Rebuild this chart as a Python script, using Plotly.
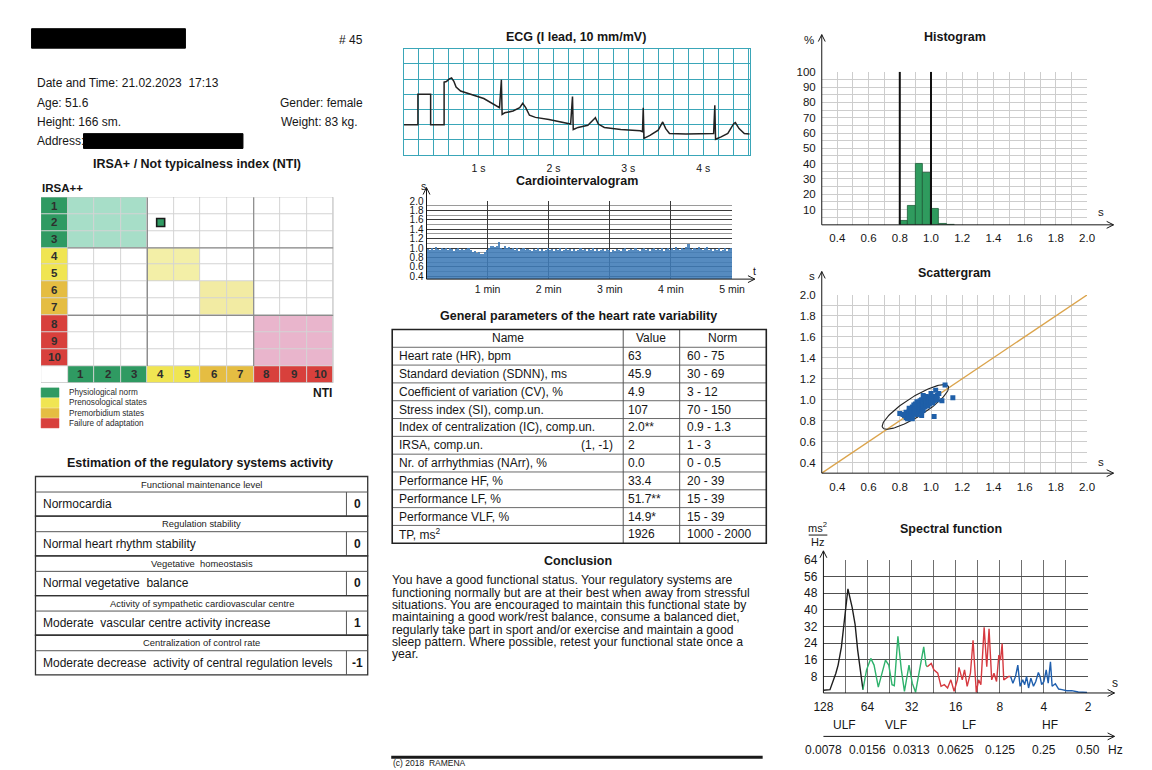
import math
import plotly.graph_objects as go

W, H = 1152, 770
FONT = "Liberation Sans"
INK = "#161616"

# ---------------- data ----------------
report_number = "# 45"
date_time = "21.02.2023  17:13"
age_years = "51.6"
gender = "female"
height_sm = "166"
weight_kg = "83"

zone_of_level = [1, 1, 1, 2, 2, 3, 3, 4, 4, 4]
zone_labels = ["Physiological norm", "Prenosological states", "Premorbidium states", "Failure of adaptation"]
zone_strong = ["#2f9a62", "#f0e552", "#e5bd42", "#d8403c"]
zone_light = ["#a7dec8", "#f3efa7", "#f2eba3", "#e9b5cc"]
nti_value = 4
irsa_value = 2

est_groups = ["Functional maintenance level", "Regulation stability", "Vegetative  homeostasis",
              "Activity of sympathetic cardiovascular centre", "Centralization of control rate"]
est_results = ["Normocardia", "Normal heart rhythm stability", "Normal vegetative  balance",
               "Moderate  vascular centre activity increase",
               "Moderate decrease  activity of central regulation levels"]
est_scores = ["0", "0", "0", "1", "-1"]

hrv_header = ["Name", "Value", "Norm"]
hrv_names = ["Heart rate (HR), bpm", "Standard deviation (SDNN), ms", "Coefficient of variation (CV), %",
             "Stress index (SI), comp.un.", "Index of centralization (IC), comp.un.", "IRSA, comp.un.",
             "Nr. of arrhythmias (NArr), %", "Performance HF, %", "Performance LF, %",
             "Performance VLF, %", "TP, ms<sup>2</sup>"]
hrv_notes = ["", "", "", "", "", "(1, -1)", "", "", "", "", ""]
hrv_values = ["63", "45.9", "4.9", "107", "2.0**", "2", "0.0", "33.4", "51.7**", "14.9*", "1926"]
hrv_norms = ["60 - 75", "30 - 69", "3 - 12", "70 - 150", "0.9 - 1.3", "1 - 3", "0 - 0.5",
             "20 - 39", "15 - 39", "15 - 39", "1000 - 2000"]

conclusion_lines = [
    "You have a good functional status. Your regulatory systems are",
    "functioning normally but are at their best when away from stressful",
    "situations. You are encouraged to maintain this functional state by",
    "maintaining a good work/rest balance, consume a balanced diet,",
    "regularly take part in sport and/or exercise and maintain a good",
    "sleep pattern. Where possible, retest your functional state once a",
    "year.",
]

# ECG (time s, mV)
ecg_t = [0.00, 0.19, 0.19, 0.36, 0.36, 0.54, 0.54, 0.57, 0.61, 0.64, 0.67, 0.70, 0.76, 0.89, 1.07, 1.28,
         1.305, 1.315, 1.35, 1.46, 1.55, 1.59, 1.63, 1.68, 1.76, 1.94, 2.11, 2.23,
         2.255, 2.265, 2.33, 2.46, 2.55, 2.56, 2.60, 2.68, 2.90, 3.16, 3.19,
         3.20, 3.21, 3.29, 3.40, 3.46, 3.50, 3.55, 3.77, 4.03, 4.14,
         4.156, 4.166, 4.24, 4.33, 4.41, 4.43, 4.48, 4.55, 4.62]
ecg_mv = [1.0, 1.0, 2.0, 2.0, 1.0, 1.0, 2.40, 2.42, 2.51, 2.54, 2.43, 2.24, 2.11, 2.00, 1.86, 1.56,
          2.48, 1.34, 1.39, 1.45, 1.56, 1.70, 1.56, 1.31, 1.24, 1.17, 1.09, 1.02,
          1.93, 0.84, 0.91, 0.98, 1.20, 1.23, 1.02, 0.91, 0.84, 0.80, 0.77,
          1.56, 0.55, 0.65, 0.82, 1.09, 0.87, 0.71, 0.69, 0.71, 0.71,
          1.64, 0.52, 0.60, 0.71, 1.04, 1.07, 0.87, 0.71, 0.69]

# Cardiointervalogram: RR intervals (s), 2-second steps over 5 min
rr_series = [
    0.97, 0.95, 0.99, 0.96, 1.02, 0.98, 0.95, 0.99, 0.97, 1.00,
    0.96, 0.99, 0.97, 0.94, 0.98, 1.00, 0.96, 0.98, 0.95, 0.97,
    0.99, 0.95, 0.92, 0.94, 0.90, 0.92, 0.88, 0.86, 0.91, 0.95,
    0.99, 1.03, 1.05, 1.02, 1.04, 1.12, 1.00, 0.97, 1.03, 0.99,
    1.01, 0.97, 1.00, 0.96, 0.99, 0.94, 0.97, 1.00, 0.95, 0.98,
    0.96, 0.93, 0.98, 0.95, 0.99, 0.94, 0.97, 0.93, 0.96, 0.99,
    0.95, 0.98, 0.93, 0.97, 0.95, 0.99, 0.94, 0.96, 1.00, 0.95,
    0.97, 0.94, 0.98, 0.93, 0.96, 0.99, 0.95, 0.97, 0.93, 0.98,
    0.95, 0.99, 0.94, 0.97, 0.93, 0.96, 0.98, 0.94, 0.97, 0.95,
    0.92, 0.96, 0.94, 0.98, 0.95, 0.93, 0.97, 0.99, 0.94, 0.96,
    0.98, 0.95, 0.99, 0.96, 0.93, 0.97, 1.00, 0.95, 0.98, 0.94,
    0.97, 1.00, 0.95, 0.98, 0.96, 0.99, 0.94, 0.97, 1.00, 0.96,
    0.99, 0.96, 1.01, 0.97, 0.95, 0.99, 0.97, 1.01, 1.08, 0.98,
    0.96, 1.00, 0.97, 1.02, 0.98, 0.95, 0.99, 1.01, 0.96, 0.98,
    0.94, 0.97, 0.95, 0.99, 0.93, 0.96, 1.00, 0.94, 0.97, 0.99,
]
cig_minutes = 5

# Histogram
hist_bin_left = [0.80, 0.85, 0.90, 0.95, 1.00, 1.05, 1.10]
hist_pct = [2.5, 12.5, 40.0, 34.0, 10.5, 0.8, 0.3]
hist_bin_width = 0.05
hist_bounds = [0.8, 1.0]

# Scattergram (RR_n, RR_n+1)
rr_n = [0.82, 0.84, 0.84, 0.85, 0.86, 0.86, 0.87, 0.87, 0.88, 0.88,
        0.88, 0.89, 0.89, 0.89, 0.90, 0.90, 0.90, 0.91, 0.91, 0.91,
        0.92, 0.92, 0.92, 0.93, 0.93, 0.93, 0.94, 0.94, 0.94, 0.95,
        0.95, 0.95, 0.96, 0.96, 0.96, 0.97, 0.97, 0.97, 0.98, 0.98,
        0.98, 0.99, 0.99, 1.00, 1.00, 1.01, 1.01, 1.02, 1.02, 1.03,
        1.04, 1.04, 0.91, 0.94, 0.86, 0.95, 1.00,
        1.09, 1.14, 1.07, 1.02, 0.94, 0.88, 0.83, 0.85, 1.03, 1.05, 0.80]
rr_n1 = [0.86, 0.83, 0.88, 0.86, 0.84, 0.89, 0.87, 0.91, 0.85, 0.89,
         0.93, 0.87, 0.91, 0.95, 0.88, 0.92, 0.96, 0.90, 0.94, 0.98,
         0.89, 0.93, 0.97, 0.91, 0.95, 0.99, 0.92, 0.96, 1.00, 0.90,
         0.94, 0.98, 0.93, 0.97, 1.01, 0.95, 0.99, 1.03, 0.94, 0.98,
         1.02, 0.96, 1.00, 0.98, 1.02, 0.97, 1.01, 0.99, 1.03, 1.01,
         1.00, 1.04, 0.86, 0.88, 0.92, 1.04, 1.06,
         1.14, 1.02, 0.99, 0.84, 0.85, 0.82, 0.85, 0.82, 1.09, 1.06, 0.87]
ellipse_cx, ellipse_cy = 0.90, 0.932
ellipse_a, ellipse_b, ellipse_angle_deg = 0.29, 0.08, 45

# Spectral function: frequency (Hz), power (ms^2/Hz)
ulf_f = [0.00781, 0.00866, 0.00950, 0.00984, 0.01036, 0.01090, 0.01148, 0.01228, 0.01285, 0.01339, 0.01410, 0.01454]
ulf_p = [1.3, 1.6, 9.5, 13.4, 22.0, 34.8, 50.0, 41.0, 33.0, 20.5, 7.9, 1.6]
vlf_f = [0.01454, 0.01539, 0.01645, 0.01731, 0.01851, 0.01969, 0.02072, 0.02182, 0.02296, 0.02380,
         0.02519, 0.02652, 0.02791, 0.02999, 0.03157, 0.03324, 0.03553, 0.03779, 0.03917, 0.03998]
vlf_p = [1.6, 11.1, 16.6, 13.4, 2.8, 9.5, 15.8, 13.4, 4.0, 3.5,
         27.2, 11.7, 0.8, 13.4, 4.7, 0.3, 11.1, 22.1, 13.4, 12.6]
lf_f = [0.03998, 0.04253, 0.04431, 0.04712, 0.04961, 0.05222, 0.05498, 0.05787, 0.06092, 0.06413,
        0.06579, 0.06926, 0.07179, 0.07481, 0.07874, 0.08205, 0.08637, 0.08953, 0.09281, 0.09769,
        0.1018, 0.1055, 0.1100, 0.1140, 0.1187, 0.1231, 0.1263, 0.1296, 0.1329, 0.1385, 0.1436, 0.1481]
lf_p = [12.6, 14.2, 11.1, 9.5, 3.2, 4.0, 2.4, 6.3, 0.8, 6.3,
        12.3, 6.3, 11.1, 3.2, 9.5, 25.3, 0.3, 6.3, 4.0, 31.6,
        12.6, 30.8, 6.3, 9.5, 5.5, 18.2, 15.8, 23.7, 6.3, 7.1, 7.9, 7.9]
hf_f = [0.1481, 0.1535, 0.1599, 0.1658, 0.1719, 0.1791, 0.1847, 0.1904, 0.1964, 0.2036,
        0.2121, 0.2199, 0.2291, 0.2350, 0.2412, 0.2500, 0.2591, 0.2673, 0.2770, 0.2843,
        0.2992, 0.3150, 0.3316, 0.3581, 0.3868, 0.4286, 0.4924]
hf_p = [7.9, 4.7, 7.9, 13.4, 3.2, 6.3, 4.0, 7.9, 2.4, 7.1,
        3.2, 5.5, 9.8, 7.9, 4.0, 5.5, 11.1, 4.7, 15.0, 3.2,
        4.4, 1.9, 1.6, 1.1, 1.1, 0.5, 0.3]
band_edges = [1 / 128, 0.015, 0.04, 0.15, 0.5]
band_names = ["ULF", "VLF", "LF", "HF"]
band_colors = ["#1e1e1e", "#2eb26c", "#d63a40", "#1f5fae"]
period_labels = ["128", "64", "32", "16", "8", "4", "2"]
freq_labels = ["0.0078", "0.0156", "0.0313", "0.0625", "0.125", "0.25", "0.50"]

# ---------------- helpers ----------------
def X(px):
    return px / W


def Y(py):
    return 1 - py / H


def xdom(a, b):
    return [X(a), X(b)]


def ydom(top, bottom):
    return [Y(bottom), Y(top)]


anns = []
shapes = []


def txt(x, y, s, size=12, bold=False, xa="left", color=INK, family=FONT):
    anns.append(dict(x=X(x), y=Y(y), xref="paper", yref="paper", text=("<b>%s</b>" % s) if bold else s,
                     showarrow=False, xanchor=xa, yanchor="middle", borderpad=0,
                     font=dict(family=family, size=size, color=color)))


def line(x0, y0, x1, y1, color=INK, width=1):
    shapes.append(dict(type="line", xref="paper", yref="paper", x0=X(x0), y0=Y(y0), x1=X(x1), y1=Y(y1),
                       line=dict(color=color, width=width)))


def rect(x0, y0, x1, y1, fill=None, color=INK, width=1):
    shapes.append(dict(type="rect", xref="paper", yref="paper", x0=X(x0), y0=Y(y0), x1=X(x1), y1=Y(y1),
                       fillcolor=fill if fill else "rgba(0,0,0,0)",
                       line=dict(color=color, width=width)))


def arrow(x0, y0, x1, y1, color=INK, width=1, head=7, half=3.5):
    line(x0, y0, x1, y1, color, width)
    dx, dy = x1 - x0, y1 - y0
    L = math.hypot(dx, dy)
    ux, uy = dx / L, dy / L
    bx, by = x1 - ux * head, y1 - uy * head
    nx, ny = -uy * half, ux * half
    path = "M %f %f L %f %f L %f %f" % (X(bx + nx), Y(by + ny), X(x1), Y(y1), X(bx - nx), Y(by - ny))
    shapes.append(dict(type="path", xref="paper", yref="paper", path=path, line=dict(color=color, width=width)))


def steps(lo, hi, step):
    n = int(round((hi - lo) / step))
    return [round(lo + k * step, 5) for k in range(n + 1)]


traces = []
layout_axes = {}

# ---------------- header ----------------
rect(22, 22, 179, 41.7, fill="#000000", color="#000000")
txt(361, 33.5, report_number, 12, xa="right")
txt(26.5, 77.5, "Date and Time: " + date_time, 12)
txt(26.5, 97.5, "Age: " + age_years, 12)
txt(361, 97.5, "Gender: " + gender, 12, xa="right")
txt(26.5, 116.5, "Height: " + height_sm + " sm.", 12)
txt(276, 116.5, "Weight: " + weight_kg + " kg.", 12)
txt(26.5, 135.5, "Address:", 12)
rect(75, 128.3, 237.7, 143.3, fill="#000000", color="#000000")
txt(191, 159.3, "IRSA+ / Not typicalness index (NTI)", 12.5, bold=True, xa="center")

# ---------------- IRSA grid (heatmap) ----------------
palette = ["#ffffff"] + zone_light + zone_strong
cscale = []
for k, c in enumerate(palette):
    cscale.append([k / len(palette), c])
    cscale.append([(k + 1) / len(palette), c])
zmat = []
for r in range(1, 12):
    row = []
    for c in range(0, 11):
        if r == 11 and c == 0:
            row.append(0)
        elif r == 11:
            row.append(4 + zone_of_level[c - 1])
        elif c == 0:
            row.append(4 + zone_of_level[r - 1])
        else:
            zr, zc = zone_of_level[r - 1], zone_of_level[c - 1]
            row.append(zr if zr == zc else 0)
    zmat.append(row)
traces.append(go.Heatmap(z=zmat, x=list(range(0, 11)), y=list(range(1, 12)), xaxis="x6", yaxis="y6",
                         colorscale=cscale, zmin=-0.5, zmax=len(palette) - 0.5, showscale=False,
                         xgap=1, ygap=1, hoverinfo="skip"))
layout_axes["xaxis6"] = dict(domain=xdom(31.7, 330), range=[-0.5, 10.5], anchor="y6", visible=False)
layout_axes["yaxis6"] = dict(domain=ydom(192.7, 380.7), range=[11.5, 0.5], anchor="x6", visible=False)
shapes.append(dict(type="rect", xref="x6", yref="y6", x0=-0.5, x1=10.5, y0=0.5, y1=11.5, layer="below",
                   fillcolor="#d4d4d4", line=dict(color="#b0b0b0", width=1)))
for b in [3.5, 7.5]:
    shapes.append(dict(type="line", xref="x6", yref="y6", x0=b, x1=b, y0=0.5, y1=10.5,
                       line=dict(color="#8c8c8c", width=1.2)))
    shapes.append(dict(type="line", xref="x6", yref="y6", x0=0.5, x1=10.5, y0=b, y1=b,
                       line=dict(color="#8c8c8c", width=1.2)))
for lvl in range(1, 11):
    anns.append(dict(x=0, y=lvl, xref="x6", yref="y6", text="<b>%d</b>" % lvl, showarrow=False,
                     font=dict(family=FONT, size=11.5, color="#2e2e2e")))
    anns.append(dict(x=lvl, y=11, xref="x6", yref="y6", text="<b>%d</b>" % lvl, showarrow=False,
                     font=dict(family=FONT, size=11.5, color="#2e2e2e")))
traces.append(go.Scatter(x=[nti_value], y=[irsa_value], xaxis="x6", yaxis="y6", mode="markers",
                         marker=dict(symbol="square", size=8, color="#2f9a62", line=dict(color="#1a1a1a", width=1.6)),
                         hoverinfo="skip"))
txt(32, 183, "IRSA++", 11.5, bold=True)
for i, name in enumerate(zone_labels):
    yc = 390.7 + 10.33 * i
    rect(31.7, yc - 4.8, 50, yc + 4.8, fill=zone_strong[i], color=zone_strong[i], width=0.5)
    txt(59, yc, name, 8.2, color="#2a2a2a")
txt(330, 390.7, "NTI", 12, bold=True, xa="right")

# ---------------- Estimation table ----------------
txt(194, 461.7, "Estimation of the regulatory systems activity", 12.5, bold=True, xa="center")
for i in range(len(est_groups)):
    y0 = 475.7 + 40.2 * i
    ym = y0 + 15.7
    y1 = y0 + 40.2
    rect(26, y0, 365, y1, color="#333333", width=1.3)
    line(26, ym, 365, ym, "#555555", 1)
    line(343.3, ym, 343.3, y1, "#555555", 1)
    txt(195.5, (y0 + ym) / 2, est_groups[i], 9.4, xa="center", color="#222222")
    txt(32.5, (ym + y1) / 2, est_results[i], 12)
    txt(354.2, (ym + y1) / 2, est_scores[i], 12, bold=True, xa="center")

# ---------------- ECG ----------------
teal = "#3aa6b8"
txt(578, 30, "ECG (I lead, 10 mm/mV)", 12.5, bold=True, xa="center")
traces.append(go.Scatter(x=ecg_t, y=ecg_mv, xaxis="x", yaxis="y", mode="lines",
                         line=dict(color="#222222", width=1.5), hoverinfo="skip"))
layout_axes["xaxis"] = dict(domain=xdom(401.7, 755), range=[0, 4.625], anchor="y", tickmode="array",
                            tickvals=[1, 2, 3, 4], ticktext=["1 s", "2 s", "3 s", "4 s"],
                            showgrid=True, gridcolor=teal, gridwidth=1,
                            minor=dict(tickmode="array", tickvals=steps(0.2, 4.6, 0.2), showgrid=True,
                                       gridcolor=teal, gridwidth=1),
                            showline=True, linecolor=teal, mirror=True, zeroline=False, ticks="",
                            tickfont=dict(family=FONT, size=10.5, color=INK), ticklabelstandoff=3)
layout_axes["yaxis"] = dict(domain=ydom(42.3, 150), range=[0, 3.5], anchor="x", dtick=0.5, showgrid=True,
                            gridcolor=teal, gridwidth=1, showline=True, linecolor=teal, mirror=True,
                            zeroline=False, showticklabels=False, ticks="")

# ---------------- Cardiointervalogram ----------------
txt(579, 176.7, "Cardiointervalogram", 12.5, bold=True, xa="center")
step = cig_minutes / len(rr_series)
cig_x = [(i + 0.5) * step for i in range(len(rr_series))]
traces.append(go.Bar(x=cig_x, y=rr_series, xaxis="x2", yaxis="y2", width=step * 0.8,
                     marker=dict(color="#3f7cb8", line=dict(width=0)), opacity=0.88, hoverinfo="skip"))
layout_axes["xaxis2"] = dict(domain=xdom(425, 736.7), range=[0, cig_minutes], anchor="y2", tickmode="array",
                             tickvals=[1, 2, 3, 4, 5], ticktext=["1 min", "2 min", "3 min", "4 min", "5 min"],
                             showgrid=True, gridcolor="#3a3a3a", gridwidth=1, zeroline=False, showline=False,
                             ticks="", tickfont=dict(family=FONT, size=10.5, color=INK), ticklabelstandoff=2)
cig_major = steps(0.4, 2.0, 0.2)
cig_minor = steps(0.5, 1.9, 0.2)
layout_axes["yaxis2"] = dict(domain=ydom(196.7, 275.7), range=[0.337, 2.0], anchor="x2", tickmode="array",
                             tickvals=cig_major, ticktext=["%.1f" % v for v in cig_major],
                             showgrid=True, gridcolor="#3a3a3a", gridwidth=1, zeroline=False, ticks="",
                             minor=dict(tickmode="array", tickvals=cig_minor, showgrid=True, gridcolor="#9a9a9a"),
                             tickfont=dict(family=FONT, size=10, color=INK), ticklabelstandoff=2)
arrow(425, 275.7, 425, 183)
arrow(425, 275.7, 760, 275.7)
txt(418, 181, "s", 10.5)
txt(760, 267, "t", 10.5, xa="center")

# ---------------- HRV parameters table ----------------
txt(580, 313.3, "General parameters of the heart rate variability", 12.5, bold=True, xa="center")
tx0, tc1, tc2, tx1 = 390, 625.7, 683.3, 771.7
ty0, rh = 326.7, 18.05
nrows = len(hrv_names) + 1
for r in range(1, nrows):
    line(tx0, ty0 + rh * r, tx1, ty0 + rh * r, "#6a6a6a", 1)
line(tc1, ty0, tc1, ty0 + rh * nrows, "#555555", 1)
line(tc2, ty0, tc2, ty0 + rh * nrows, "#555555", 1)
rect(tx0, ty0, tx1, ty0 + rh * nrows, color="#222222", width=1.6)
yc = ty0 + rh / 2
txt((tx0 + tc1) / 2, yc, hrv_header[0], 12, xa="center")
txt((tc1 + tc2) / 2, yc, hrv_header[1], 12, xa="center")
txt((tc2 + tx1) / 2, yc, hrv_header[2], 12, xa="center")
for i in range(len(hrv_names)):
    yc = ty0 + rh * (i + 1) + rh / 2
    txt(396, yc, hrv_names[i], 12)
    if hrv_notes[i]:
        txt(616, yc, hrv_notes[i], 12, xa="right")
    txt(630, yc, hrv_values[i], 12)
    txt(690, yc, hrv_norms[i], 12)

# ---------------- Conclusion ----------------
txt(580, 561, "Conclusion", 12.5, bold=True, xa="center")
for i, s in enumerate(conclusion_lines):
    txt(389, 581 + 12.5 * i, s, 12.2)
line(389, 760, 768, 760, "#1a1a1a", 3)
txt(390, 765.5, "(c) 2018  RAMENA", 8.5)

# ---------------- Histogram ----------------
txt(964, 30, "Histogram", 12.5, bold=True, xa="center")
traces.append(go.Bar(x=[b + hist_bin_width / 2 for b in hist_bin_left], y=hist_pct, width=hist_bin_width,
                     xaxis="x3", yaxis="y3", marker=dict(color="#2f9b5e", line=dict(color="#1d5e39", width=0.8)),
                     hoverinfo="skip"))
for b in hist_bounds:
    traces.append(go.Scatter(x=[b, b], y=[0, 100], xaxis="x3", yaxis="y3", mode="lines",
                             line=dict(color="#111111", width=2), hoverinfo="skip"))
gx_major = steps(0.4, 2.0, 0.2)
gx_minor = steps(0.5, 1.9, 0.2)
gx_text = ["%.1f" % v for v in gx_major]
gridc = "#cdcdcd"
tick_font = dict(family=FONT, size=11.5, color=INK)
layout_axes["xaxis3"] = dict(domain=xdom(828.3, 1099), range=[0.3, 2.0], anchor="y3", tickmode="array",
                             tickvals=gx_major, ticktext=gx_text, showgrid=True, gridcolor=gridc, zeroline=False,
                             minor=dict(tickmode="array", tickvals=gx_minor, showgrid=True, gridcolor=gridc),
                             ticks="", tickfont=tick_font, ticklabelstandoff=5)
hy_major = steps(10, 100, 10)
hy_minor = steps(5, 95, 10)
layout_axes["yaxis3"] = dict(domain=ydom(65.7, 220.7), range=[0, 100], anchor="x3", tickmode="array",
                             tickvals=hy_major, ticktext=["%d" % v for v in hy_major], showgrid=True,
                             gridcolor=gridc, zeroline=False,
                             minor=dict(tickmode="array", tickvals=hy_minor, showgrid=True, gridcolor=gridc),
                             ticks="", tickfont=tick_font, ticklabelstandoff=5)
arrow(828.3, 220.7, 828.3, 28)
arrow(828.3, 220.7, 1126, 220.7)
txt(815, 33, "%", 11.5, xa="center")
txt(1113, 208, "s", 11.5, xa="center")

# ---------------- Scattergram ----------------
txt(964, 270, "Scattergram", 12.5, bold=True, xa="center")
traces.append(go.Scatter(x=[0.3, 2.0], y=[0.3, 2.0], xaxis="x4", yaxis="y4", mode="lines",
                         line=dict(color="#dba44c", width=1.3), hoverinfo="skip"))
th = math.radians(ellipse_angle_deg)
ex, ey = [], []
for k in range(121):
    t = 2 * math.pi * k / 120
    u, v = ellipse_a * math.cos(t), ellipse_b * math.sin(t)
    ex.append(ellipse_cx + u * math.cos(th) - v * math.sin(th))
    ey.append(ellipse_cy + u * math.sin(th) + v * math.cos(th))
traces.append(go.Scatter(x=ex, y=ey, xaxis="x4", yaxis="y4", mode="lines",
                         line=dict(color="#222222", width=1.1), hoverinfo="skip"))
traces.append(go.Scatter(x=rr_n, y=rr_n1, xaxis="x4", yaxis="y4", mode="markers",
                         marker=dict(symbol="square", size=5, color="#1f5fa8"), hoverinfo="skip"))
layout_axes["xaxis4"] = dict(domain=xdom(828.3, 1099), range=[0.3, 2.0], anchor="y4", tickmode="array",
                             tickvals=gx_major, ticktext=gx_text, showgrid=True, gridcolor=gridc, zeroline=False,
                             minor=dict(tickmode="array", tickvals=gx_minor, showgrid=True, gridcolor=gridc),
                             ticks="", tickfont=tick_font, ticklabelstandoff=5)
layout_axes["yaxis4"] = dict(domain=ydom(291.7, 472.3), range=[0.3, 2.0], anchor="x4", tickmode="array",
                             tickvals=gx_major, ticktext=gx_text, showgrid=True, gridcolor=gridc, zeroline=False,
                             minor=dict(tickmode="array", tickvals=gx_minor, showgrid=True, gridcolor=gridc),
                             ticks="", tickfont=tick_font, ticklabelstandoff=5)
arrow(828.3, 472.3, 828.3, 268)
arrow(828.3, 472.3, 1126, 472.3)
txt(818, 273, "s", 11.5, xa="center")
txt(1113, 461, "s", 11.5, xa="center")

# ---------------- Spectral function ----------------
txt(960, 529, "Spectral function", 12.5, bold=True, xa="center")
for f, p, c in [(ulf_f, ulf_p, band_colors[0]), (vlf_f, vlf_p, band_colors[1]),
                (lf_f, lf_p, band_colors[2]), (hf_f, hf_p, band_colors[3])]:
    traces.append(go.Scatter(x=f, y=p, xaxis="x5", yaxis="y5", mode="lines",
                             line=dict(color=c, width=1.4), hoverinfo="skip"))
octaves = [(1 / 128) * 2 ** k for k in range(7)]
half_oct = [(1 / 128) * 2 ** (k + 0.5) for k in range(6)]
layout_axes["xaxis5"] = dict(domain=xdom(830, 1100), type="log", range=[math.log10(1 / 128), math.log10(0.5)],
                             anchor="y5", tickmode="array", tickvals=octaves, ticktext=period_labels,
                             showgrid=True, gridcolor="#707070", gridwidth=1, zeroline=False, ticks="",
                             minor=dict(tickmode="array", tickvals=half_oct, showgrid=True, gridcolor="#707070"),
                             tickfont=dict(family=FONT, size=12, color=INK), ticklabelstandoff=5)
spec_y = steps(8, 64, 8)
layout_axes["yaxis5"] = dict(domain=ydom(560, 695), range=[0, 64], anchor="x5", tickmode="array",
                             tickvals=spec_y, ticktext=["%d" % v for v in spec_y],
                             showgrid=True, gridcolor="#505050", gridwidth=1, zeroline=False, ticks="",
                             tickfont=dict(family=FONT, size=12, color=INK), ticklabelstandoff=5)
for e in band_edges[1:]:
    shapes.append(dict(type="line", xref="x5", yref="y5", x0=math.log10(e), x1=math.log10(e), y0=0, y1=64,
                       line=dict(color="#111111", width=2.2)))
shapes.append(dict(type="line", xref="x5", yref="y5", x0=math.log10(0.33), x1=math.log10(0.5), y0=64, y1=64,
                   line=dict(color="#b8b8b8", width=2.5)))
arrow(830, 695, 830, 551)
arrow(830, 695, 1127, 695)
txt(1128, 685, "s", 12, xa="center")
txt(824, 527, "ms<sup>2</sup>", 11, xa="center")
line(815, 535, 834, 535, INK, 1)
txt(824, 542, "Hz", 11, xa="center")
band_y = 727.7
shapes.append(dict(type="line", xref="x5", yref="paper", x0=math.log10(band_edges[0]), x1=math.log10(band_edges[-1]),
                   y0=Y(band_y), y1=Y(band_y), line=dict(color=INK, width=1)))
for e in band_edges:
    shapes.append(dict(type="line", xref="x5", yref="paper", x0=math.log10(e), x1=math.log10(e),
                       y0=Y(band_y - 4), y1=Y(band_y + 4), line=dict(color=INK, width=1)))
for i, nm in enumerate(band_names):
    xm = (math.log10(band_edges[i]) + math.log10(band_edges[i + 1])) / 2
    anns.append(dict(x=xm, y=Y(band_y), xref="x5", yref="paper", text=nm, showarrow=False, yanchor="middle",
                     font=dict(family=FONT, size=12, color=INK)))
arrow(830, 739, 1127, 739)
for k, lab in enumerate(freq_labels):
    anns.append(dict(x=math.log10(octaves[k]), y=Y(752.3), xref="x5", yref="paper", text=lab,
                     showarrow=False, yanchor="middle", font=dict(family=FONT, size=12, color=INK)))
txt(1128, 752.3, "Hz", 12, xa="center")

fig = go.Figure(data=traces)
fig.update_layout(width=W, height=H, margin=dict(l=0, r=0, t=0, b=0), autosize=False,
                  paper_bgcolor="white", plot_bgcolor="white", showlegend=False, hovermode=False,
                  annotations=anns, shapes=shapes, bargap=0, **layout_axes)
# remove the page's default body margin so the 1152x770 figure fills the window exactly
fig.write_html("out.html", config={"displayModeBar": False},
               post_script="var gd=document.getElementById('{plot_id}');"
                           "document.documentElement.style.margin='0';document.documentElement.style.padding='0';"
                           "document.documentElement.style.overflow='hidden';"
                           "document.body.style.margin='0';document.body.style.padding='0';"
                           "document.body.style.overflow='hidden';"
                           "gd.style.position='absolute';gd.style.left='0px';gd.style.top='0px';")
